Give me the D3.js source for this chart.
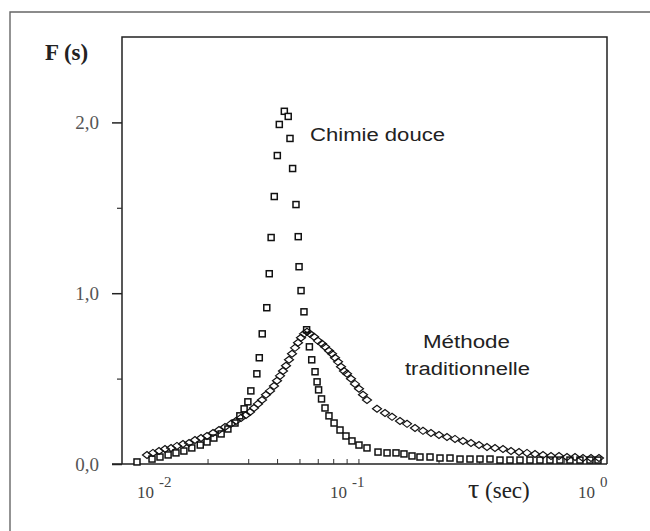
<!DOCTYPE html>
<html><head><meta charset="utf-8">
<script src="https://cdn.jsdelivr.net/npm/d3@7"></script>
<style>body{margin:0;background:#fff}svg{display:block}</style>
</head><body>
<svg id="c" width="650" height="531"></svg>
<script>
// Chimie douce (squares): tau (s), F(s)
const chimieTau = [0.0099,0.0115,0.01245,0.0135,0.0146,0.0158,0.0171,0.0186,0.0199,0.0213,0.0229,0.0245,0.0263,0.0276,0.0288,0.0299,0.0308,0.0327,0.0335,0.0345,0.0361,0.0370,0.0377,0.0389,0.0401,0.0409,0.0430,0.0447,0.0455,0.0467,0.0483,0.0494,0.0498,0.0508,0.0523,0.0537,0.0552,0.0565,0.0584,0.0596,0.0605,0.0623,0.0645,0.0671,0.0706,0.0749,0.0795,0.0844,0.0905,0.0980,0.1094,0.1197,0.1309,0.1417,0.1535,0.1662,0.1837,0.2029,0.2242,0.2477,0.2736,0.3023,0.3340,0.3690,0.4077,0.4504,0.4976,0.5497,0.6073,0.6710,0.7413,0.8190,0.9048,0.980];
const chimieF = [0.012,0.029,0.041,0.053,0.065,0.076,0.094,0.111,0.129,0.152,0.176,0.205,0.240,0.282,0.323,0.364,0.428,0.528,0.622,0.762,0.915,1.114,1.326,1.566,1.806,1.988,2.065,2.035,1.906,1.730,1.519,1.331,1.155,1.015,0.891,0.786,0.686,0.610,0.540,0.481,0.434,0.381,0.328,0.282,0.240,0.199,0.164,0.135,0.111,0.094,0.070,0.065,0.065,0.059,0.047,0.041,0.041,0.035,0.035,0.029,0.029,0.029,0.029,0.023,0.023,0.023,0.023,0.023,0.023,0.023,0.023,0.023,0.023,0.023];
// Méthode traditionnelle (diamonds)
const tradTau = [0.01094,0.01161,0.01233,0.01309,0.01390,0.01475,0.01566,0.01663,0.01765,0.01874,0.01989,0.02112,0.02242,0.02380,0.02527,0.02656,0.02792,0.02935,0.03054,0.03178,0.03307,0.03442,0.03582,0.03728,0.03879,0.03997,0.04118,0.04243,0.04372,0.04505,0.04642,0.04783,0.04928,0.05077,0.05232,0.05390,0.05554,0.05780,0.06014,0.06259,0.06450,0.06713,0.06916,0.07126,0.07342,0.07565,0.07794,0.08031,0.08358,0.08697,0.09051,0.09420,0.09802,0.1083,0.1173,0.1258,0.1362,0.1461,0.1582,0.1713,0.1855,0.2009,0.2176,0.2357,0.2552,0.2764,0.2994,0.3242,0.3511,0.3803,0.4119,0.4461,0.4831,0.5232,0.5666,0.6136,0.6646,0.7197,0.7795,0.8441,0.9142,0.990];
const tradF = [0.053,0.065,0.076,0.088,0.094,0.106,0.117,0.123,0.141,0.152,0.164,0.182,0.199,0.217,0.235,0.252,0.270,0.287,0.305,0.328,0.352,0.375,0.405,0.428,0.457,0.487,0.516,0.545,0.575,0.610,0.645,0.680,0.710,0.739,0.762,0.774,0.762,0.745,0.721,0.704,0.686,0.663,0.645,0.622,0.598,0.569,0.545,0.528,0.499,0.469,0.440,0.405,0.375,0.323,0.299,0.276,0.252,0.235,0.211,0.194,0.182,0.170,0.158,0.147,0.135,0.123,0.111,0.100,0.094,0.088,0.076,0.070,0.065,0.059,0.053,0.047,0.047,0.041,0.041,0.035,0.035,0.035];
const yMajorTicks = [0, 1, 2];
const yMinorTicks = [0.5, 1.5];
const xMajorTicks = [0.01, 0.1, 1];
const xMinorTicks = [0.02,0.03,0.04,0.05,0.06,0.07,0.08,0.09,0.2,0.3,0.4,0.5,0.6,0.7,0.8,0.9];
const xTickLabels = [{b:"10", e:"-2", dx:-1}, {b:"10", e:"-1", dx:-39}, {b:"10", e:"0", dx:-22}];

const svg = d3.select("#c");
const pL = 122, pR = 607, pT = 37, pB = 464;
const x = d3.scaleLog().domain([0.01, 1]).range([138, 600]);
const y = d3.scaleLinear().domain([0, 2.5]).range([pB, pT]);
const serif = "'Liberation Serif','DejaVu Serif',serif";
const sans = "'Liberation Sans',Arial,sans-serif";

// outer frame
svg.append("path").attr("d", `M10,531 V12 H650`).attr("fill","none").attr("stroke","#666").attr("stroke-width",1.4);

// plot box
svg.append("path").attr("d", `M${pL},${pB} V${pT} H${pR} V${pB}`).attr("fill","none").attr("stroke","#222").attr("stroke-width",1.5);
svg.append("line").attr("x1",pL-10).attr("x2",pR).attr("y1",pB).attr("y2",pB).attr("stroke","#222").attr("stroke-width",1.5);

// y axis
const fmt = d => d3.format(".1f")(d).replace(".", ",");
const ya = svg.append("g").attr("transform",`translate(${pL},0)`)
  .call(d3.axisLeft(y).tickValues(yMajorTicks).tickSize(10).tickPadding(13).tickFormat(fmt));
ya.select(".domain").remove();
ya.selectAll("line").attr("stroke","#222").attr("stroke-width",1.5);
ya.selectAll("text").attr("font-family",serif).attr("font-size",19).attr("fill","#555");
const ym = svg.append("g").attr("transform",`translate(${pL},0)`)
  .call(d3.axisLeft(y).tickValues(yMinorTicks).tickSize(5).tickFormat(""));
ym.select(".domain").remove();
ym.selectAll("line").attr("stroke","#333").attr("stroke-width",1.2);

// x axis (ticks inward)
const xa = svg.append("g").attr("transform",`translate(0,${pB})`)
  .call(d3.axisTop(x).tickValues(xMinorTicks).tickSize(5).tickFormat(""));
xa.select(".domain").remove();
xa.selectAll("line").attr("stroke","#333").attr("stroke-width",1);
const xl = svg.append("g");
xMajorTicks.forEach((v,i) => {
  const t = xTickLabels[i];
  const tx = xl.append("text").attr("x", x(v)+t.dx).attr("y", 498)
    .attr("font-family",serif).attr("font-size",17).attr("fill","#444");
  tx.append("tspan").text(t.b);
  tx.append("tspan").attr("dx",5).attr("dy",-11).attr("font-size",15).text(t.e);
});

// series
svg.append("g").selectAll("rect").data(chimieTau.map((t,i)=>[t,chimieF[i]])).join("rect")
  .attr("x", d => x(d[0])-3).attr("y", d => y(d[1])-3).attr("width",6).attr("height",6)
  .attr("fill","#fff").attr("stroke","#111").attr("stroke-width",1.5);
svg.append("g").selectAll("path").data(tradTau.map((t,i)=>[t,tradF[i]])).join("path")
  .attr("d", d => { const cx=x(d[0]), cy=y(d[1]); return `M${cx-4.5},${cy} L${cx},${cy-3.5} L${cx+4.5},${cy} L${cx},${cy+3.5} Z`; })
  .attr("fill","none").attr("stroke","#111").attr("stroke-width",1.2);

// labels
svg.append("text").attr("x",45).attr("y",60).attr("font-family",serif).attr("font-size",23).attr("font-weight","bold").attr("fill","#222").text("F (s)");
svg.append("text").attr("x",310).attr("y",141).attr("font-family",sans).attr("font-size",18).attr("fill","#222")
  .attr("textLength",135).attr("lengthAdjust","spacingAndGlyphs").text("Chimie douce");
svg.append("text").attr("x",423).attr("y",348).attr("font-family",sans).attr("font-size",18).attr("fill","#222")
  .attr("textLength",87).attr("lengthAdjust","spacingAndGlyphs").text("Méthode");
svg.append("text").attr("x",405).attr("y",375).attr("font-family",sans).attr("font-size",18).attr("fill","#222")
  .attr("textLength",125).attr("lengthAdjust","spacingAndGlyphs").text("traditionnelle");
const tl = svg.append("text").attr("x",468).attr("y",498).attr("font-family",serif).attr("font-size",23).attr("fill","#222");
tl.append("tspan").attr("font-size",28).text("τ");
tl.append("tspan").text(" (sec)");
</script>
</body></html>
